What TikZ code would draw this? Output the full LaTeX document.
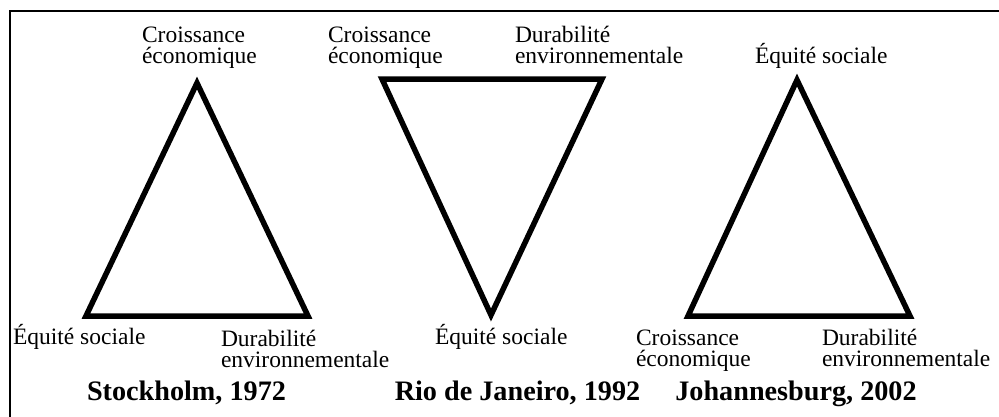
\documentclass[tikz,border=0pt]{standalone}
\usepackage{fontspec}
\setmainfont{Liberation Serif}
\begin{document}
\begin{tikzpicture}[x=1pt,y=-1pt,
  lbl/.style={inner sep=0pt,outer sep=0pt,align=left,anchor=base west,font=\fontsize{23.5}{21}\selectfont},
  ttl/.style={inner sep=0pt,outer sep=0pt,anchor=base,font=\fontsize{28.2}{30}\selectfont\bfseries},
  tri/.style={line width=5.5pt,line join=miter,miter limit=10},
  frm/.style={line width=2.2pt}]
\useasboundingbox (0,0) rectangle (999,416);
% frame
\coordinate (f1) at (10,417);
\coordinate (f2) at (10,11);
\coordinate (f3) at (1000,11);
\draw[frm] (f1) -- (f2) -- (f3);
% triangle 1
\coordinate (a1) at (197,83);
\coordinate (b1) at (86,316);
\coordinate (c1) at (308,316);
\draw[tri] (a1) -- (b1) -- (c1) -- cycle;
% triangle 2
\coordinate (a2) at (382,79);
\coordinate (b2) at (602,79);
\coordinate (c2) at (491,315);
\draw[tri] (a2) -- (b2) -- (c2) -- cycle;
% triangle 3
\coordinate (a3) at (797,80);
\coordinate (b3) at (688,316);
\coordinate (c3) at (910,316);
\draw[tri] (a3) -- (b3) -- (c3) -- cycle;
% labels 1
\node[lbl] (ce1) at (142,63) {Croissance\\économique};
\node[lbl] (es1) at (13,344) {Équité sociale};
\node[lbl] (de1) at (221,367) {Durabilité\\environnementale};
\node[ttl] (t1) at (186.5,400) {Stockholm, 1972};
% labels 2
\node[lbl] (ce2) at (328,63) {Croissance\\économique};
\node[lbl] (de2) at (515,63) {Durabilité\\environnementale};
\node[lbl] (es2) at (435,344) {Équité sociale};
\node[ttl] (t2) at (517.5,400) {Rio de Janeiro, 1992};
% labels 3
\node[lbl] (es3) at (755,63) {Équité sociale};
\node[lbl] (ce3) at (636,366) {Croissance\\économique};
\node[lbl] (de3) at (822,366) {Durabilité\\environnementale};
\node[ttl] (t3) at (796,400) {Johannesburg, 2002};
\end{tikzpicture}
\end{document}
